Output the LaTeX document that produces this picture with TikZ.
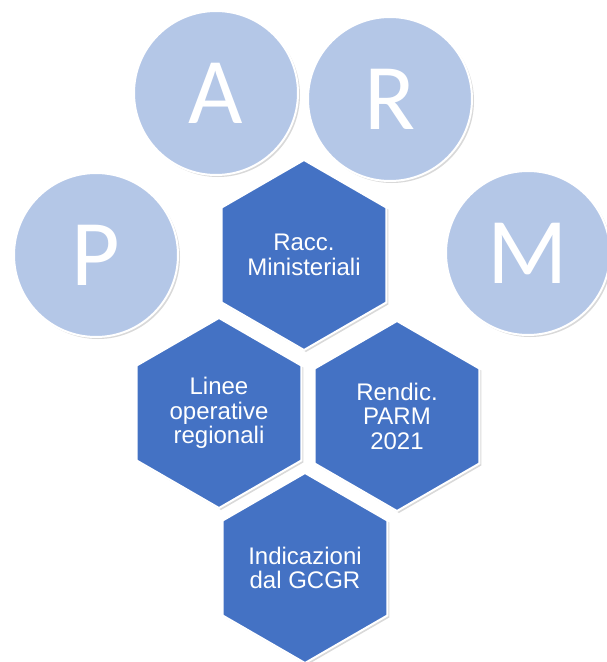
\documentclass[tikz,border=0pt]{standalone}
\usepackage{fontspec}
\setmainfont{Liberation Sans}
\newfontfamily\letterfont{Carlito}
\usetikzlibrary{shapes.geometric,shadows}
\definecolor{hexblue}{HTML}{4472C4}
\definecolor{circblue}{HTML}{B4C7E7}
\tikzset{
  lettercircle/.style={circle,draw=white,line width=2pt,fill=circblue,
    minimum size=164pt,inner sep=0pt,text=white,
    font=\letterfont\fontsize{94}{94}\selectfont,
    drop shadow={opacity=0.3,shadow xshift=2pt,shadow yshift=-2pt}},
  hexa/.style={regular polygon,regular polygon sides=6,shape border rotate=30,
    draw=white,line width=2pt,fill=hexblue,minimum size=190pt,inner sep=0pt,
    text=white,align=center,font=\fontsize{24}{24.5}\selectfont,
    drop shadow={opacity=0.3,shadow xshift=2pt,shadow yshift=-2pt}}
}
\begin{document}
\begin{tikzpicture}[x=1pt,y=-1pt]
\useasboundingbox (0,0) rectangle (606,662);
\node[lettercircle] (A) at (216,93) {A};
\node[lettercircle] (R) at (390,99) {R};
\node[lettercircle] (P) at (96,255) {P};
\node[lettercircle] (M) at (528,253) {M};

\node[hexa] (indicazioni) at (305,568) {Indicazioni\\dal GCGR};
\node[hexa] (rendic) at (397,416) {Rendic.\\PARM\\2021};
\node[hexa] (linee) at (219,413) {Linee\\operative\\regionali};
\node[hexa] (racc) at (304,255) {Racc.\\Ministeriali};
\end{tikzpicture}
\end{document}
